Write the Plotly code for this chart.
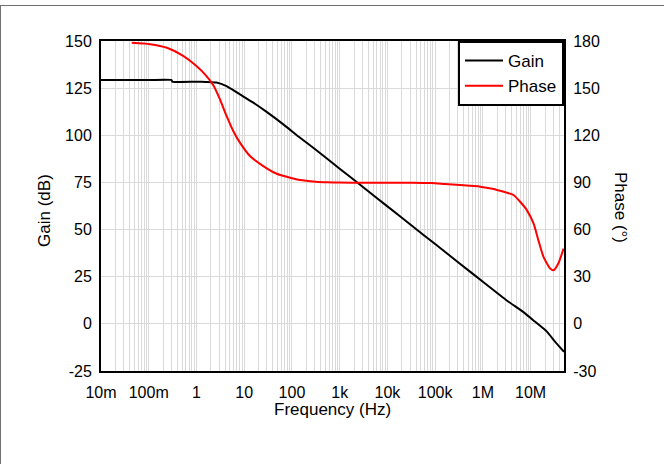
import plotly.graph_objects as go

# Open-loop response
gain_freq_hz = [0.01, 0.1, 0.30, 0.31, 1, 1.58, 2.63, 4.27, 8.13, 15.5, 29.5, 66,
                148, 316, 1000, 3162, 1e4, 31623, 1e5, 316228, 1e6, 3.16e6,
                7.08e6, 1.23e7, 2.19e7, 3.24e7, 5e7]
gain_db = [129.3, 129.3, 129.3, 128.5, 128.4, 128.3, 128.0, 126.1, 121.7, 117.3, 112.4, 105.8,
           98.7, 92.3, 82.3, 72.3, 62.3, 52.3, 42.3, 32.3, 22.3, 12.4,
           6.2, 1.2, -4.1, -9.4, -14.8]

phase_freq_hz = [0.044, 0.107, 0.24, 0.525, 1, 1.62, 2.24, 3.09, 4.27, 5.89, 8.13, 13.2,
                 25.1, 47.9, 91.2, 148, 316, 562, 1000, 3162, 1e4, 31623, 85100,
                 158000, 331000, 871000, 1.58e6, 2.29e6, 3.16e6, 4.37e6, 6.03e6,
                 8.32e6, 1.15e7, 1.45e7, 1.86e7, 2.57e7, 3.02e7, 3.8e7, 4.9e7]
phase_deg = [178.9, 178.0, 175.7, 170.5, 164.1, 157.7, 152.0, 143.0, 132.3, 122.7, 115.3, 106.8,
             100.4, 95.5, 93.0, 91.5, 90.5, 90.1, 89.9, 89.8, 89.8, 89.8, 89.6,
             89.0, 88.3, 87.3, 86.0, 84.7, 83.5, 82.0, 77.7,
             72.4, 63.9, 53.3, 42.6, 35.2, 34.1, 38.4, 47.9]

freq_ticks = [0.01, 0.1, 1, 10, 100, 1e3, 1e4, 1e5, 1e6, 1e7]
freq_labels = ["10m", "100m", "1", "10", "100", "1k", "10k", "100k", "1M", "10M"]
gain_ticks = [-25, 0, 25, 50, 75, 100, 125, 150]
phase_ticks = [-30, 0, 30, 60, 90, 120, 150, 180]

FONT = "Liberation Sans, Arial, sans-serif"
GRID = "#dadada"
CLEAR = "rgba(0,0,0,0)"

# minor grid at 2..9 within each decade
minor_vals = [m * d for d in freq_ticks for m in range(2, 10) if m * d <= 5e7]

fig = go.Figure()
fig.add_trace(go.Scatter(x=gain_freq_hz, y=gain_db, name="Gain", mode="lines",
                         line=dict(color="#000000", width=2, shape="spline", smoothing=0.5)))
fig.add_trace(go.Scatter(x=phase_freq_hz, y=phase_deg, name="Phase", mode="lines",
                         line=dict(color="#ff0000", width=2, shape="spline", smoothing=0.6),
                         yaxis="y2"))

fig.update_layout(
    width=664, height=464,
    margin=dict(l=101, r=100, t=41, b=93),
    paper_bgcolor="white", plot_bgcolor="white",
    font=dict(family=FONT, size=16, color="#000000"),
    showlegend=True,
    legend=dict(x=1, y=1, xanchor="right", yanchor="top", itemwidth=38,
                bgcolor="white", bordercolor="#000000", borderwidth=2,
                font=dict(family=FONT, size=17, color="#000000")),
    xaxis=dict(type="log", range=[-2, 7.699],
               tickmode="array", tickvals=freq_ticks, ticktext=freq_labels,
               showgrid=True, gridcolor=GRID, gridwidth=1,
               minor=dict(tickmode="array", tickvals=minor_vals, showgrid=True,
                          gridcolor=GRID, gridwidth=1, ticks=""),
               showline=True, linecolor="#000000", linewidth=2, mirror=True,
               ticks="outside", ticklen=6, tickcolor=CLEAR,
               zeroline=False, tickfont=dict(size=16)),
    yaxis=dict(range=[-25, 150], tickmode="array", tickvals=gain_ticks,
               ticktext=[str(v) for v in gain_ticks],
               showgrid=True, gridcolor=GRID, gridwidth=1,
               showline=True, linecolor="#000000", linewidth=2, mirror=True,
               ticks="outside", ticklen=4, tickcolor=CLEAR,
               zeroline=False, tickfont=dict(size=16)),
    yaxis2=dict(range=[-30, 180], tickmode="array", tickvals=phase_ticks,
                ticktext=[str(v) for v in phase_ticks],
                overlaying="y", side="right", showgrid=False,
                showline=True, linecolor="#000000", linewidth=2,
                ticks="outside", ticklen=4, tickcolor=CLEAR,
                zeroline=False, tickfont=dict(size=16)),
)

# axis titles
fig.add_annotation(text="Frequency (Hz)", xref="paper", yref="paper",
                   x=0.5, y=-0.118, xanchor="center", yanchor="middle", showarrow=False,
                   font=dict(family=FONT, size=17, color="#000000"))
fig.add_annotation(text="Gain (dB)", xref="paper", yref="paper",
                   x=-0.121, y=0.488, xanchor="center", yanchor="middle",
                   textangle=-90, showarrow=False,
                   font=dict(family=FONT, size=17, color="#000000"))
fig.add_annotation(text="Phase (°)", xref="paper", yref="paper",
                   x=1.121, y=0.497, xanchor="center", yanchor="middle",
                   textangle=90, showarrow=False,
                   font=dict(family=FONT, size=17, color="#000000"))

# outer frame (top and left edges)
fig.add_shape(type="line", xref="paper", yref="paper", x0=-0.2181, x1=1.3, y0=1.1076, y1=1.1076,
              line=dict(color="#6e6e6e", width=1))
fig.add_shape(type="line", xref="paper", yref="paper", x0=-0.2171, x1=-0.2171, y0=-0.3, y1=1.1076,
              line=dict(color="#6e6e6e", width=1))

fig.write_html("out.html")
